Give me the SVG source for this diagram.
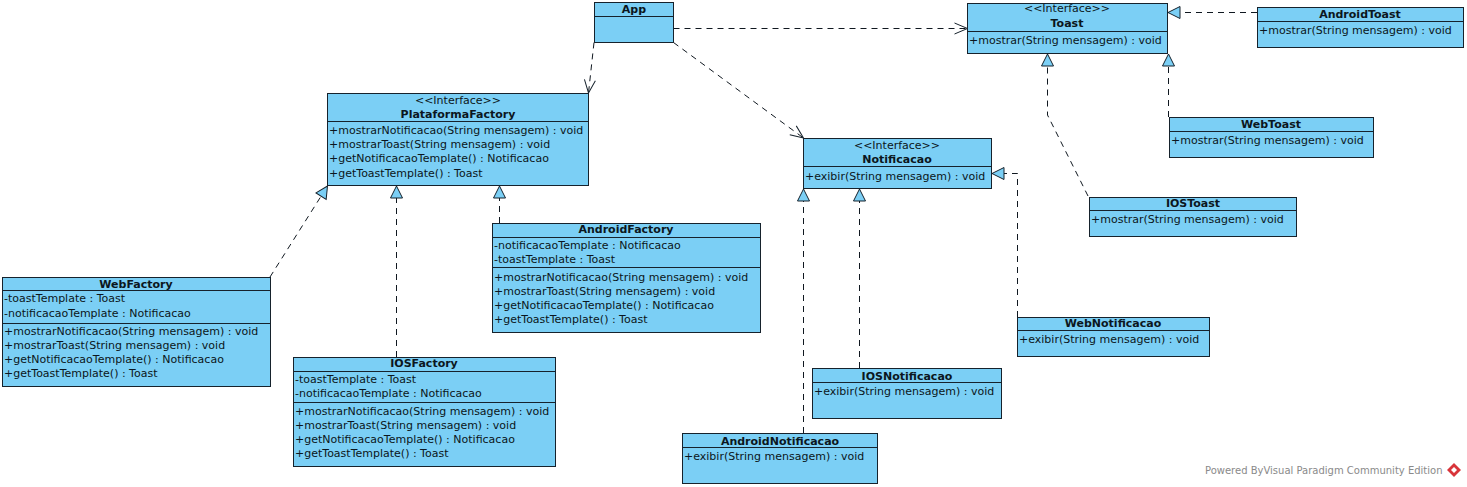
<svg xmlns="http://www.w3.org/2000/svg" width="1467" height="487" viewBox="0 0 1467 487">
<style>
.box{fill:#7bcff5;stroke:#16222c;stroke-width:1}
.sep{stroke:#16222c;stroke-width:1}
.t{font-family:"DejaVu Sans",sans-serif;font-size:11px;fill:#0b1620}
.b{font-weight:bold;text-anchor:middle}
.c{text-anchor:middle}
.dash{fill:none;stroke:#101820;stroke-width:1;stroke-dasharray:6,5}
.wm{font-family:"DejaVu Sans",sans-serif;font-size:10px;fill:#8a8a8a}
</style>
<defs>
<marker id="real" markerUnits="userSpaceOnUse" markerWidth="16" markerHeight="16" refX="12.5" refY="6.5" orient="auto" overflow="visible">
<path d="M0.5,0.5 L12.5,6.5 L0.5,12.5 Z" fill="#7bcff5" stroke="#16222c" stroke-width="1"/>
</marker>
<marker id="dep" markerUnits="userSpaceOnUse" markerWidth="16" markerHeight="16" refX="13" refY="5.5" orient="auto" overflow="visible">
<path d="M0,0 L13,5.5 L0,11" fill="none" stroke="#16222c" stroke-width="1"/>
</marker>
</defs>
<rect width="1467" height="487" fill="#ffffff"/>

<g id="connectors">
<path class="dash" d="M673.5,28.5 L967.5,28.5" marker-end="url(#dep)"/>
<path class="dash" d="M594,42.5 L588.5,93" marker-end="url(#dep)"/>
<path class="dash" d="M673.5,42.5 L803.5,138" marker-end="url(#dep)"/>
<path class="dash" d="M270,277 L327.5,186" marker-end="url(#real)"/>
<path class="dash" d="M396.5,357 L396.5,186" marker-end="url(#real)"/>
<path class="dash" d="M499.5,223 L499.5,186" marker-end="url(#real)"/>
<path class="dash" d="M803.5,433 L803.5,189" marker-end="url(#real)"/>
<path class="dash" d="M859.5,368 L859.5,189" marker-end="url(#real)"/>
<path class="dash" d="M1017.5,317 L1017.5,173.5 L992,173.5" marker-end="url(#real)"/>
<path class="dash" d="M1088,196 L1047.5,115 L1047.5,54" marker-end="url(#real)"/>
<path class="dash" d="M1168.5,117 L1168.5,54" marker-end="url(#real)"/>
<path class="dash" d="M1257,12.5 L1168,12.5" marker-end="url(#real)"/>
</g>

<g id="App">
<rect class="box" x="594.5" y="2.5" width="79" height="40"/>
<line class="sep" x1="594.5" y1="16.5" x2="673.5" y2="16.5"/>
<text class="t b" x="634" y="13">App</text>
</g>

<g id="Toast">
<rect class="box" x="967.5" y="3.5" width="200" height="50"/>
<line class="sep" x1="967.5" y1="31.5" x2="1167.5" y2="31.5"/>
<text class="t c" x="1067" y="12">&lt;&lt;Interface&gt;&gt;</text>
<text class="t b" x="1067" y="27">Toast</text>
<text class="t" x="969" y="44">+mostrar(String mensagem) : void</text>
</g>

<g id="AndroidToast">
<rect class="box" x="1257.5" y="7.5" width="206" height="40"/>
<line class="sep" x1="1257.5" y1="21.5" x2="1463.5" y2="21.5"/>
<text class="t b" x="1360" y="18">AndroidToast</text>
<text class="t" x="1259" y="34">+mostrar(String mensagem) : void</text>
</g>

<g id="WebToast">
<rect class="box" x="1169.5" y="117.5" width="204" height="40"/>
<line class="sep" x1="1169.5" y1="131.5" x2="1373.5" y2="131.5"/>
<text class="t b" x="1271" y="128">WebToast</text>
<text class="t" x="1171" y="144">+mostrar(String mensagem) : void</text>
</g>

<g id="IOSToast">
<rect class="box" x="1089.5" y="197.5" width="207" height="39"/>
<line class="sep" x1="1089.5" y1="210.5" x2="1296.5" y2="210.5"/>
<text class="t b" x="1193" y="207">IOSToast</text>
<text class="t" x="1091" y="223">+mostrar(String mensagem) : void</text>
</g>

<g id="PlataformaFactory">
<rect class="box" x="327.5" y="93.5" width="261" height="92"/>
<line class="sep" x1="327.5" y1="121.5" x2="588.5" y2="121.5"/>
<text class="t c" x="458" y="104">&lt;&lt;Interface&gt;&gt;</text>
<text class="t b" x="458" y="118">PlataformaFactory</text>
<text class="t" x="329" y="134">+mostrarNotificacao(String mensagem) : void</text>
<text class="t" x="329" y="148">+mostrarToast(String mensagem) : void</text>
<text class="t" x="329" y="162">+getNotificacaoTemplate() : Notificacao</text>
<text class="t" x="329" y="177">+getToastTemplate() : Toast</text>
</g>

<g id="WebFactory">
<rect class="box" x="2.5" y="277.5" width="268" height="109"/>
<line class="sep" x1="2.5" y1="290.5" x2="270.5" y2="290.5"/>
<line class="sep" x1="2.5" y1="323.5" x2="270.5" y2="323.5"/>
<text class="t b" x="136" y="288">WebFactory</text>
<text class="t" x="4" y="302">-toastTemplate : Toast</text>
<text class="t" x="4" y="317">-notificacaoTemplate : Notificacao</text>
<text class="t" x="4" y="335">+mostrarNotificacao(String mensagem) : void</text>
<text class="t" x="4" y="349">+mostrarToast(String mensagem) : void</text>
<text class="t" x="4" y="363">+getNotificacaoTemplate() : Notificacao</text>
<text class="t" x="4" y="377">+getToastTemplate() : Toast</text>
</g>

<g id="IOSFactory">
<rect class="box" x="293.5" y="357.5" width="262" height="109"/>
<line class="sep" x1="293.5" y1="371.5" x2="555.5" y2="371.5"/>
<line class="sep" x1="293.5" y1="402.5" x2="555.5" y2="402.5"/>
<text class="t b" x="424" y="367">IOSFactory</text>
<text class="t" x="295" y="383">-toastTemplate : Toast</text>
<text class="t" x="295" y="397">-notificacaoTemplate : Notificacao</text>
<text class="t" x="295" y="415">+mostrarNotificacao(String mensagem) : void</text>
<text class="t" x="295" y="429">+mostrarToast(String mensagem) : void</text>
<text class="t" x="295" y="443">+getNotificacaoTemplate() : Notificacao</text>
<text class="t" x="295" y="457">+getToastTemplate() : Toast</text>
</g>

<g id="AndroidFactory">
<rect class="box" x="492.5" y="223.5" width="268" height="109"/>
<line class="sep" x1="492.5" y1="237.5" x2="760.5" y2="237.5"/>
<line class="sep" x1="492.5" y1="267.5" x2="760.5" y2="267.5"/>
<text class="t b" x="626" y="233">AndroidFactory</text>
<text class="t" x="494" y="249">-notificacaoTemplate : Notificacao</text>
<text class="t" x="494" y="263">-toastTemplate : Toast</text>
<text class="t" x="494" y="281">+mostrarNotificacao(String mensagem) : void</text>
<text class="t" x="494" y="295">+mostrarToast(String mensagem) : void</text>
<text class="t" x="494" y="309">+getNotificacaoTemplate() : Notificacao</text>
<text class="t" x="494" y="323">+getToastTemplate() : Toast</text>
</g>

<g id="Notificacao">
<rect class="box" x="803.5" y="138.5" width="188" height="50"/>
<line class="sep" x1="803.5" y1="166.5" x2="991.5" y2="166.5"/>
<text class="t c" x="897" y="149">&lt;&lt;Interface&gt;&gt;</text>
<text class="t b" x="897" y="163">Notificacao</text>
<text class="t" x="805" y="180">+exibir(String mensagem) : void</text>
</g>

<g id="WebNotificacao">
<rect class="box" x="1017.5" y="317.5" width="192" height="39"/>
<line class="sep" x1="1017.5" y1="330.5" x2="1209.5" y2="330.5"/>
<text class="t b" x="1113" y="327">WebNotificacao</text>
<text class="t" x="1019" y="343">+exibir(String mensagem) : void</text>
</g>

<g id="IOSNotificacao">
<rect class="box" x="812.5" y="368.5" width="189" height="50"/>
<line class="sep" x1="812.5" y1="382.5" x2="1001.5" y2="382.5"/>
<text class="t b" x="907" y="380">IOSNotificacao</text>
<text class="t" x="814" y="395">+exibir(String mensagem) : void</text>
</g>

<g id="AndroidNotificacao">
<rect class="box" x="682.5" y="433.5" width="195" height="50"/>
<line class="sep" x1="682.5" y1="447.5" x2="877.5" y2="447.5"/>
<text class="t b" x="780" y="445">AndroidNotificacao</text>
<text class="t" x="684" y="460">+exibir(String mensagem) : void</text>
</g>

<g id="watermark">
<text class="wm" x="1205" y="474">Powered ByVisual Paradigm Community Edition</text>
<path d="M1454,463 L1461,470 L1454,477 L1447,470 Z" fill="#d8343a"/>
<path d="M1454,467 L1457,470 L1454,473 L1451,470 Z" fill="#ffffff"/>
</g>
</svg>
